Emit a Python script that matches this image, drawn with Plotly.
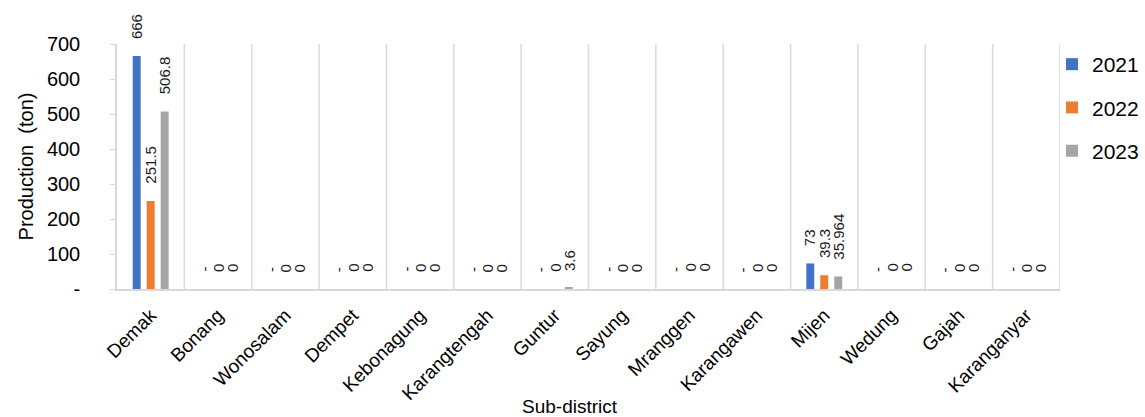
import plotly.graph_objects as go

# Production (ton) per sub-district, 2021-2023
subdistricts = ["Demak", "Bonang", "Wonosalam", "Dempet", "Kebonagung", "Karangtengah",
                "Guntur", "Sayung", "Mranggen", "Karangawen", "Mijen", "Wedung",
                "Gajah", "Karanganyar"]
prod_2021 = [666, 0, 0, 0, 0, 0, 0, 0, 0, 0, 73, 0, 0, 0]
prod_2022 = [251.5, 0, 0, 0, 0, 0, 0, 0, 0, 0, 39.3, 0, 0, 0]
prod_2023 = [506.8, 0, 0, 0, 0, 0, 3.6, 0, 0, 0, 35.964, 0, 0, 0]

y_ticks = [0, 100, 200, 300, 400, 500, 600, 700]
y_tick_text = ["-", "100", "200", "300", "400", "500", "600", "700"]

FONT = "Liberation Sans, Arial, sans-serif"
BARGAP = 0.377
BARGROUPGAP = 0.43


def fmt(v, dash_zero=False):
    if v == 0:
        return "-" if dash_zero else "0"
    return f"{v:g}"


series = [
    ("2021", prod_2021, "#4472C4", True),
    ("2022", prod_2022, "#ED7D31", False),
    ("2023", prod_2023, "#A5A5A5", False),
]

fig = go.Figure()
annotations = []
slot = (1 - BARGAP) / len(series)
for k, (name, vals, color, dash_zero) in enumerate(series):
    fig.add_trace(go.Bar(
        name=name,
        x=list(range(len(subdistricts))),
        y=vals,
        marker=dict(color=color, line=dict(width=0)),
        legendgroup=name,
        hovertemplate="%{y}<extra>" + name + "</extra>",
    ))
    # rotated value labels sitting above each bar
    offset = (k - (len(series) - 1) / 2) * slot
    for i, v in enumerate(vals):
        annotations.append(dict(
            x=i + offset, y=v, xref="x", yref="y",
            text=fmt(v, dash_zero), textangle=-90,
            xanchor="center", yanchor="bottom", yshift=15,
            showarrow=False,
            font=dict(family=FONT, size=15, color="#1a1a1a"),
        ))

annotations.append(dict(
    text="Sub-district", xref="paper", yref="paper", x=0.4804, y=-0.478,
    xanchor="center", yanchor="middle", showarrow=False,
    font=dict(family=FONT, size=19, color="#000000"),
))

fig.update_layout(
    width=1145,
    height=417,
    margin=dict(l=117, r=85, t=44, b=128, autoexpand=False),
    paper_bgcolor="white",
    plot_bgcolor="white",
    barmode="group",
    bargap=BARGAP,
    bargroupgap=BARGROUPGAP,
    font=dict(family=FONT, size=19, color="#000000"),
    showlegend=True,
    legend=dict(
        x=0.9915, y=1.0, xanchor="left", yanchor="top",
        font=dict(family=FONT, size=21, color="#000000"),
        tracegroupgap=13,
        itemwidth=30,
        bgcolor="rgba(0,0,0,0)",
    ),
    xaxis=dict(
        range=[-0.5, len(subdistricts) - 0.5],
        tickmode="array",
        tickvals=list(range(len(subdistricts))),
        ticktext=subdistricts,
        tickangle=-45,
        tickfont=dict(family=FONT, size=19, color="#000000"),
        showgrid=False,
        showline=True,
        linecolor="#D9D9D9",
        linewidth=1.5,
        ticks="",
        ticklabelstandoff=6,
        automargin=False,
    ),
    yaxis=dict(
        range=[0, 700],
        tickvals=y_ticks,
        ticktext=y_tick_text,
        tickfont=dict(family=FONT, size=20, color="#000000"),
        showgrid=False,
        zeroline=False,
        showline=True,
        linecolor="#D9D9D9",
        linewidth=1.5,
        ticks="outside",
        ticklen=5,
        tickcolor="#D9D9D9",
        ticklabelstandoff=26,
        automargin=False,
        title=dict(text="Production  (ton)", font=dict(family=FONT, size=20, color="#000000"),
                   standoff=8),
    ),
    annotations=annotations,
)

# vertical gridlines at category boundaries
shapes = []
for k in range(1, len(subdistricts) + 1):
    shapes.append(dict(
        type="line", xref="x", yref="paper",
        x0=k - 0.5, x1=k - 0.5, y0=0, y1=1,
        line=dict(color="#D9D9D9", width=1.5),
        layer="below",
    ))
fig.update_layout(shapes=shapes)

fig.write_html("out.html")
